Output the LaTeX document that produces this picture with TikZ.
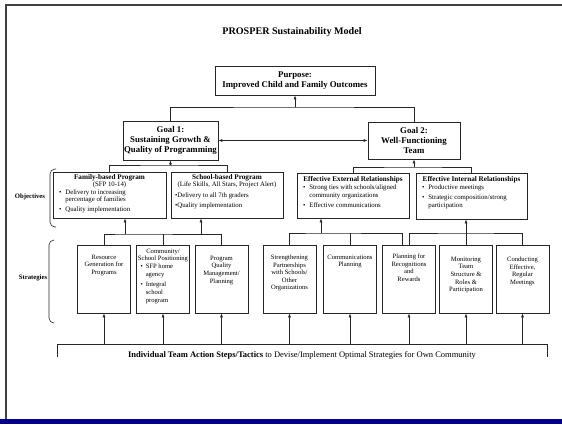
\documentclass[tikz,border=0pt]{standalone}
\usepackage{fontspec}
\setmainfont{Liberation Serif}
\usetikzlibrary{arrows.meta}
\newcommand{\stratbox}[4]
{   \node[stratbox] (#1) at (#2,279) {\parbox[c][68pt][t]{53pt}{\centering\vspace*{#3pt}#4}};
}
\newcommand{\objhead}[1]{{\fontsize{7.2}{7.6}\selectfont\bfseries #1}}
\newcommand{\mylinecolor}{black!85}
\newcommand{\mybarcolor}{blue!55!black}

\begin{document}
\begin{tikzpicture}[x=1pt,y=-1pt,
  goalbox/.style={draw=\mylinecolor, line width=0.7pt, align=center, inner sep=0pt,
    font=\fontsize{8.8}{10}\selectfont\bfseries},
  objbox/.style={draw=\mylinecolor, line width=0.7pt, inner sep=0pt,
    font=\fontsize{6.8}{7.6}\selectfont},
  stratbox/.style={draw=\mylinecolor, line width=0.7pt, inner sep=0pt,
    font=\fontsize{6.6}{7.6}\selectfont},
  sidelabel/.style={font=\fontsize{6.7}{8}\selectfont\bfseries},
  link/.style={draw=\mylinecolor, line width=0.6pt},
  arr/.style={link, -{Latex[length=4pt,width=3pt]}},
  bracket/.style={draw=\mylinecolor, line width=0.6pt, rounded corners=5pt}]

 \useasboundingbox (0,0) rectangle (562,424);
 \fill[\mybarcolor] (0,419) rectangle (562,424);
 \draw[black!75, line width=1.5pt] (6,419) -- (6,5) -- (562,5);

 \node[font=\fontsize{10.1}{12}\selectfont\bfseries] (title) at (292,32) {PROSPER Sustainability Model};

 % purpose and goals
 \node[goalbox, minimum width=160pt, minimum height=29pt] (purpose) at (295,80.5)
   {Purpose:\\Improved Child and Family Outcomes};
 \node[goalbox, minimum width=95pt, minimum height=39pt] (goal1) at (170.5,140.5)
   {Goal 1:\\Sustaining Growth \&\\Quality of Programming};
 \node[goalbox, minimum width=92pt, minimum height=37pt] (goal2) at (414,140.5)
   {Goal 2:\\Well-Functioning\\Team};

 % objectives
 \node[objbox] (family) at (109.5,195) {\parbox[c][46pt][t]{113pt}{\vspace*{2pt}\centering
   \objhead{Family-based Program}\\(SFP 10-14)\par\raggedright
   \begin{tabular}{@{\hspace{6pt}}l@{\hspace{4pt}}l@{}}
   \textbullet & Delivery to increasing\\ & percentage of families\\[1.5pt]
   \textbullet & Quality implementation\end{tabular}}};
 \node[objbox] (school) at (227,195) {\parbox[c][46pt][t]{112pt}{\vspace*{2pt}\centering
   \objhead{School-based Program}\\(Life Skills, All Stars, Project Alert)\par\vspace{3pt}\raggedright
   \begin{tabular}{@{\hspace{4pt}}l@{}}
   \textbullet Delivery to all 7th graders\\[2.5pt]
   \textbullet Quality implementation\end{tabular}}};
 \node[objbox] (ext) at (353,195.5) {\parbox[c][45pt][t]{112pt}{\vspace*{3pt}\centering
   \objhead{Effective External Relationships}\par\vspace{1pt}\raggedright
   \begin{tabular}{@{\hspace{6pt}}l@{\hspace{4pt}}l@{}}
   \textbullet & Strong ties with schools/aligned\\ & community organizations\\[2pt]
   \textbullet & Effective communications\end{tabular}}};
 \node[objbox] (int) at (471.5,196) {\parbox[c][46pt][t]{111pt}{\vspace*{3pt}\centering
   \objhead{Effective Internal Relationships}\par\vspace{1pt}\raggedright
   \begin{tabular}{@{\hspace{6pt}}l@{\hspace{4pt}}l@{}}
   \textbullet & Productive meetings\\[2pt]
   \textbullet & Strategic composition/strong\\ & participation\end{tabular}}};

 \node[sidelabel] (objlabel) at (30,197) {Objectives};
 \draw[bracket] (56,169) -- (50,169) -- (50,227) -- (56,227);

 % strategies
 \stratbox{s1}{104}{10}{Resource\\Generation for\\Programs}
 \stratbox{s2}{163}{4}{Community/\\School Positioning\par\raggedright
   \begin{tabular}{@{\hspace{4pt}}l@{\hspace{3pt}}l@{}}
   \textbullet & SFP home\\ & agency\\[3pt]
   \textbullet & Integral\\ & school\\ & program\end{tabular}}
 \stratbox{s3}{221.5}{11}{Program\\Quality\\Management/\\Planning}
 \stratbox{s4}{289.5}{10}{Strengthening\\Partnerships\\with Schools/\\Other\\Organizations}
 \stratbox{s5}{350}{10}{Communications\\Planning}
 \stratbox{s6}{409}{9}{Planning for\\Recognitions\\and\\Rewards}
 \stratbox{s7}{466}{12}{Monitoring\\Team\\Structure \&\\Roles \&\\Participation}
 \stratbox{s8}{522.5}{12}{Conducting\\Effective,\\Regular\\Meetings}

 \node[sidelabel] (stratlabel) at (33,278) {Strategies};
 \draw[bracket] (54,240) -- (49,240) -- (49,323) -- (54,323);

 % goals to purpose
 \coordinate (top) at (295,107);
 \draw[link] (goal1.north) |- (top) -| (goal2.north);
 \draw[arr] (top) -- (purpose.south);
 \draw[link, {Latex[length=4pt,width=3pt]}-{Latex[length=4pt,width=3pt]}] (goal1) -- (goal2);

 % objectives to goals
 \coordinate (g1fork) at (170.5,165);
 \draw[link] (family.north) |- (g1fork) -| (school.north);
 \draw[arr] (g1fork) -- (goal1.south);
 \coordinate (g2fork) at (414,167);
 \draw[link] (ext.north) |- (g2fork) -| (int.north);
 \draw[arr] (g2fork) -- (goal2.south);

 % strategies to objectives
 \coordinate (famfork) at (125,234);
 \coordinate (schfork) at (201,234);
 \draw[link] (s1.north) |- (famfork) -| (s3.north);
 \draw[link] (s2.north) -- (s2.north |- famfork);
 \draw[arr] (famfork) -- (famfork |- family.south);
 \draw[arr] (schfork) -- (schfork |- school.south);
 \coordinate (extfork) at (321,233);
 \draw[link] (s4.north) |- (extfork) -| ([xshift=20pt]s6.north west);
 \draw[link] (s5.north) -- (s5.north |- extfork);
 \draw[arr] (extfork) -- (extfork |- ext.south);
 \coordinate (intfork) at (466,233);
 \draw[link] ([xshift=27pt]s6.north west) |- (intfork) -| (s8.north);
 \draw[link] (s7.north) -- (intfork);
 \draw[arr] (intfork) -- (intfork |- int.south);

 % action steps
 \coordinate (baseL) at (57,357);
 \coordinate (baseR) at (547,357);
 \coordinate (base) at (0,344);
 \draw[link] (baseL) |- (baseR |- base) -- (baseR);
 \foreach \i in {1,...,8}
   \draw[arr] (s\i.south |- base) -- (s\i.south);
 \node[font=\fontsize{8.5}{10}\selectfont] (steps) at (302,355)
   {\textbf{Individual Team Action Steps/Tactics} to Devise/Implement Optimal Strategies for Own Community};

 \end{tikzpicture}
\end{document}
